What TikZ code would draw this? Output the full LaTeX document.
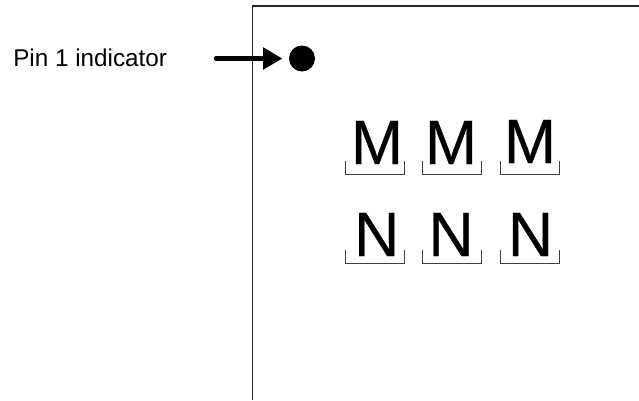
\documentclass[tikz,border=0pt]{standalone}
\usepackage{fontspec}
\setmainfont{Liberation Sans}
\newfontfamily\heavyfont[FakeBold=0.3]{Liberation Sans}
\usetikzlibrary{arrows.meta}
\tikzset{
  bigletter/.style={inner sep=0pt,outer sep=0pt,anchor=base,font=\heavyfont\fontsize{47}{47}\selectfont},
  footline/.style={line width=0.6pt,black!75},
  frameline/.style={line width=0.8pt,black!85},
  pointer/.style={line width=3.2pt,line cap=round,-{Triangle[length=14.5pt,width=16pt]},shorten >=5pt}
}
\newcommand{\footmark}[3]{\draw[footline] (#1,#3) -- (#1,#3+13) -- (#2,#3+13) -- (#2,#3);}
\begin{document}
\begin{tikzpicture}[x=0.75pt,y=-0.75pt]
\useasboundingbox (0,0) rectangle (639,400);
\fill[white] (0,0) rectangle (639,400);
\draw[frameline] (639,6) -- (252.5,6) -- (252.5,400);
\node[anchor=base west,inner sep=0pt,font=\fontsize{18.2}{18.2}\selectfont] (label) at (13,66) {Pin 1 indicator};
\node[circle,fill=black,minimum size=26*0.75pt,inner sep=0pt,outer sep=0pt] (dot) at (302,58.5) {};
\coordinate (tail) at (216,58.5);
\draw[pointer] (tail) -- (dot.west);
\node[bigletter] (m1) at (377,164) {M};
\node[bigletter] (m2) at (451,164) {M};
\node[bigletter] (m3) at (530,163) {M};
\node[bigletter] (n1) at (376.7,256) {N};
\node[bigletter] (n2) at (451,256) {N};
\node[bigletter] (n3) at (530.5,256) {N};
\footmark{345.5}{404.5}{161}
\footmark{422.5}{481.5}{161}
\footmark{500.5}{559.5}{161}
\footmark{345.5}{404.5}{250}
\footmark{422.5}{481.5}{250}
\footmark{500.5}{559.5}{250}
\end{tikzpicture}
\end{document}
